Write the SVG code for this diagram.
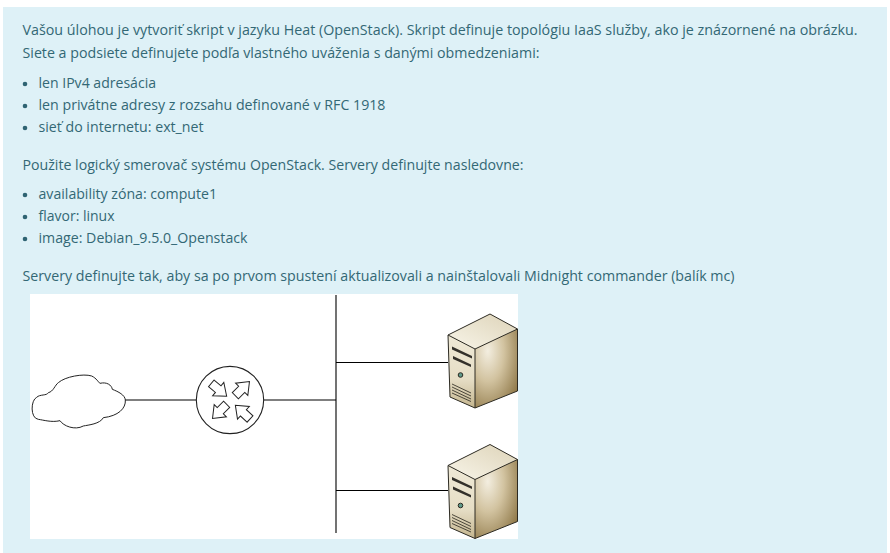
<svg xmlns="http://www.w3.org/2000/svg" width="890" height="553" viewBox="0 0 890 553">
<style>
text{font-family:"Open Sans","Noto Sans","Liberation Sans",sans-serif;font-size:14px;fill:#336875}
.c{fill:none;stroke:#000;stroke-width:1.1}
.l{fill:none;stroke:#3a372c;stroke-width:.9}
</style>
<defs>
<linearGradient id="f" x1="0" y1="0" x2="0" y2="1"><stop offset="0" stop-color="#efe9d6"/><stop offset=".6" stop-color="#e6dec6"/><stop offset="1" stop-color="#c4b58e"/></linearGradient>
<linearGradient id="t" x1="0" y1="1" x2="1" y2="0"><stop offset="0" stop-color="#f8f5e9"/><stop offset="1" stop-color="#ddd3b8"/></linearGradient>
<radialGradient id="r" cx=".3" cy=".28" r=".85"><stop offset="0" stop-color="#f3eee0"/><stop offset=".45" stop-color="#d2c3a0"/><stop offset="1" stop-color="#8f7848"/></radialGradient>
<polygon id="a" points="0,-13 27,-13 27,-26 60,0 27,26 27,13 0,13" fill="#fff" stroke="#222" stroke-width="3"/>
<g id="srv">
<polygon points="448,335 490,314 517.500,329 475,349" fill="url(#t)"/>
<polygon points="448,335 475,349 475,408 450,397" fill="url(#f)"/>
<polygon points="475,349 517.500,329 517.500,391 475,408" fill="url(#r)"/>
<path d="M448,335 490,314 517.500,329 517.500,391 475,408 450,397Z M448,335 475,349 517.500,329 M475,349V408" fill="none" stroke="#2c2a22" stroke-width="1"/>
<path d="M452,346.500 472,356 472,358.500 452,349.500Z M453,356 471,364.500 471,367 453,359Z" fill="#33302a"/>
<circle cx="460.500" cy="375" r="2.300" fill="#5f9a8a" stroke="#2c2a22"/>
<path class="l" d="M452,384 471,393 M452,387 471,396 M452,390 471,399 M452,393 471,401.500"/>
</g>
</defs>
<rect id="panel" x="3" y="7" width="884" height="546" fill="#def1f7"/>
<g id="description">
<text x="22.500" y="35" textLength="835" lengthAdjust="spacingAndGlyphs">Vašou úlohou je vytvoriť skript v jazyku Heat (OpenStack). Skript definuje topológiu IaaS služby, ako je znázornené na obrázku.</text>
<text x="22.500" y="58" textLength="517" lengthAdjust="spacingAndGlyphs">Siete a podsiete definujete podľa vlastného uváženia s danými obmedzeniami:</text>
<g fill="#2f6473"><circle cx="25" cy="84" r="2.300"/><circle cx="25" cy="106" r="2.300"/><circle cx="25" cy="128" r="2.300"/><circle cx="25" cy="195" r="2.300"/><circle cx="25" cy="217" r="2.300"/><circle cx="25" cy="239" r="2.300"/></g>
<text x="38.500" y="88" textLength="117.500" lengthAdjust="spacingAndGlyphs">len IPv4 adresácia</text>
<text x="38.500" y="110" textLength="347" lengthAdjust="spacingAndGlyphs">len privátne adresy z rozsahu definované v RFC 1918</text>
<text x="38.500" y="132" textLength="165" lengthAdjust="spacingAndGlyphs">sieť do internetu: ext_net</text>
<text x="22.500" y="170" textLength="501" lengthAdjust="spacingAndGlyphs">Použite logický smerovač systému OpenStack. Servery definujte nasledovne:</text>
<text x="38.500" y="199" textLength="178.500" lengthAdjust="spacingAndGlyphs">availability zóna: compute1</text>
<text x="38.500" y="221" textLength="76" lengthAdjust="spacingAndGlyphs">flavor: linux</text>
<text x="38.500" y="243" textLength="209" lengthAdjust="spacingAndGlyphs">image: Debian_9.5.0_Openstack</text>
<text x="22.500" y="281" textLength="712" lengthAdjust="spacingAndGlyphs">Servery definujte tak, aby sa po prvom spustení aktualizovali a nainštalovali Midnight commander (balík mc)</text>
</g>
<rect id="figure" x="30" y="294" width="488" height="245" fill="#fff"/>
<g id="connectors">
<path class="c" d="M125,400H197M264,400H336M336,295V533M336,362.500H448M336,490.500H448"/>
</g>
<g id="cloud" transform="translate(20,350) scale(.33333)">
<path fill="#fff" stroke="#222" stroke-width="3" d="M316,150C318,175 295,198 250,203C240,222 205,225 190,228C165,242 130,228 120,212C95,218 70,210 55,208C30,205 32,150 50,142C60,132 80,138 85,128C100,125 105,105 115,98C135,80 190,70 215,78C230,85 235,97 240,100C260,95 275,105 277,118C295,125 315,135 316,150Z"/>
</g>
<g id="router" transform="translate(20,350) scale(.33333)">
<circle cx="630" cy="150" r="101" fill="#fff" stroke="#222" stroke-width="3.300"/>
<use href="#a" transform="translate(574,100) rotate(40)"/>
<use href="#a" transform="translate(646,137) rotate(-45)"/>
<use href="#a" transform="translate(620,163) rotate(135)"/>
<use href="#a" transform="translate(690,207) rotate(-137)"/>
</g>
<g id="server1"><use href="#srv"/></g>
<g id="server2"><use href="#srv" transform="translate(0,130.500)"/></g>
</svg>
